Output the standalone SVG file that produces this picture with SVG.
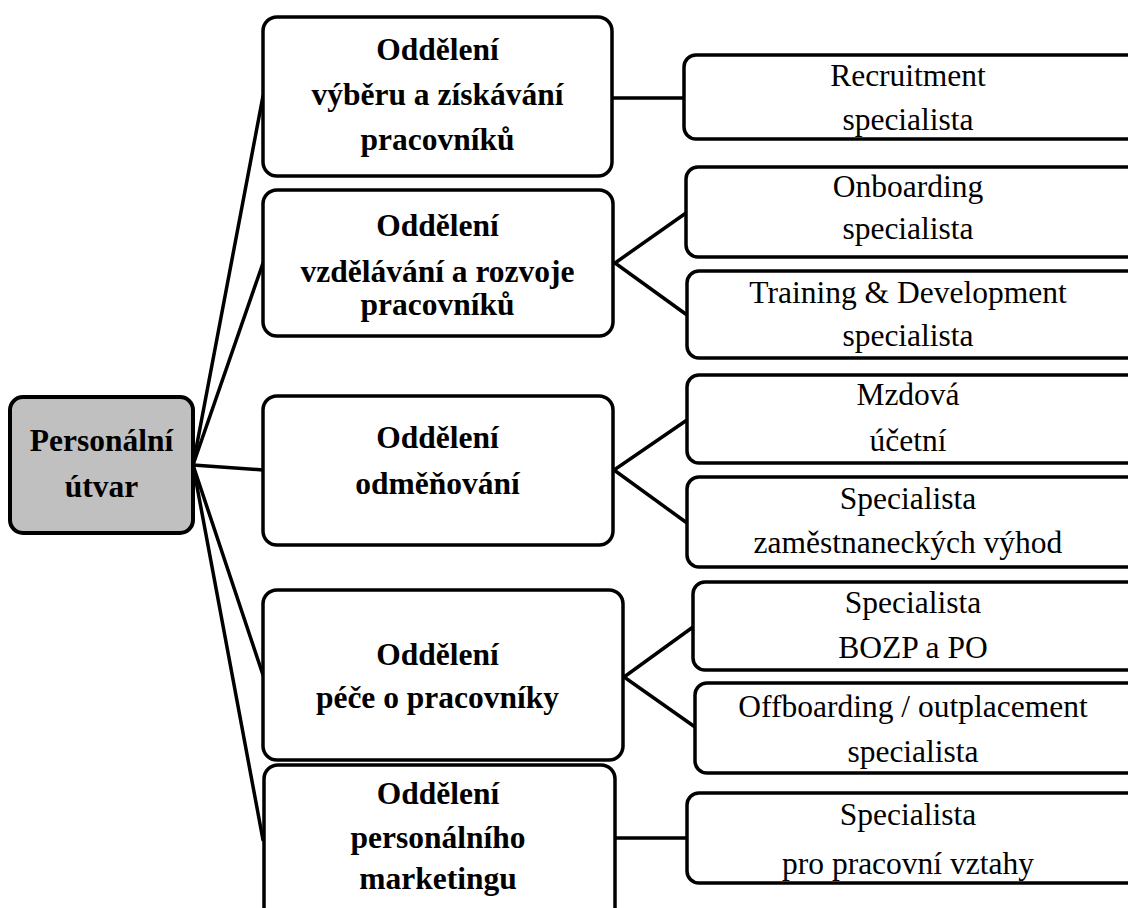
<svg xmlns="http://www.w3.org/2000/svg" width="1128" height="908" viewBox="0 0 1128 908">
  <style>
    .box { fill: #ffffff; stroke: #000000; stroke-width: 3.5; }
    .root { fill: #c0c0c0; stroke: #000000; stroke-width: 4; }
    .link { stroke: #000000; stroke-width: 3.5; fill: none; stroke-linecap: round; stroke-linejoin: miter; }
    .bold { font-family: "Liberation Serif", "Times New Roman", serif; font-weight: bold; font-size: 31.5px; fill: #000; text-anchor: middle; }
    .reg { font-family: "Liberation Serif", "Times New Roman", serif; font-size: 31.5px; fill: #000; text-anchor: middle; }
  </style>
  <rect width="1128" height="908" fill="#ffffff"/>

  <g id="connectors">
    <!-- root to departments -->
    <line class="link" x1="193" y1="465" x2="263" y2="96"/>
    <line class="link" x1="193" y1="465" x2="263" y2="263"/>
    <line class="link" x1="193" y1="465" x2="263" y2="470"/>
    <line class="link" x1="193" y1="465" x2="263" y2="675"/>
    <line class="link" x1="193" y1="465" x2="263" y2="840"/>
    <!-- departments to roles -->
    <line class="link" x1="612" y1="98" x2="684" y2="98"/>
    <polyline class="link" points="686,213 615,263 687,315"/>
    <polyline class="link" points="687,420 614,470 687,523"/>
    <polyline class="link" points="693,627 624,677 695,727"/>
    <line class="link" x1="615" y1="838" x2="687" y2="838"/>
  </g>

  <g id="root">
    <rect class="root" x="10" y="397" width="183" height="136" rx="13"/>
    <text class="bold" x="101.5" y="451">Personální</text>
    <text class="bold" x="101.5" y="497">útvar</text>
  </g>

  <g id="dept-vyber">
    <rect class="box" x="263" y="17" width="349" height="159" rx="14"/>
    <text class="bold" x="437.5" y="60">Oddělení</text>
    <text class="bold" x="437.5" y="105">výběru a získávání</text>
    <text class="bold" x="437.5" y="150">pracovníků</text>
  </g>

  <g id="dept-vzdelavani">
    <rect class="box" x="263" y="190" width="350" height="146" rx="14"/>
    <text class="bold" x="437.5" y="236">Oddělení</text>
    <text class="bold" x="437.5" y="282">vzdělávání a rozvoje</text>
    <text class="bold" x="437.5" y="315">pracovníků</text>
  </g>

  <g id="dept-odmenovani">
    <rect class="box" x="263" y="396" width="350" height="149" rx="14"/>
    <text class="bold" x="437.5" y="448">Oddělení</text>
    <text class="bold" x="437.5" y="494">odměňování</text>
  </g>

  <g id="dept-pece">
    <rect class="box" x="263" y="590" width="360" height="170" rx="14"/>
    <text class="bold" x="437.5" y="665">Oddělení</text>
    <text class="bold" x="437.5" y="708">péče o pracovníky</text>
  </g>

  <g id="dept-marketing">
    <rect class="box" x="264" y="765" width="351" height="160" rx="14"/>
    <text class="bold" x="438" y="804">Oddělení</text>
    <text class="bold" x="438" y="848">personálního</text>
    <text class="bold" x="438" y="889">marketingu</text>
  </g>

  <g id="role-recruitment">
    <rect class="box" x="684" y="55" width="460" height="84" rx="12"/>
    <text class="reg" x="908" y="86">Recruitment</text>
    <text class="reg" x="908" y="130">specialista</text>
  </g>

  <g id="role-onboarding">
    <rect class="box" x="686" y="167" width="460" height="90" rx="12"/>
    <text class="reg" x="908" y="197">Onboarding</text>
    <text class="reg" x="908" y="239">specialista</text>
  </g>

  <g id="role-training">
    <rect class="box" x="687" y="271" width="460" height="87" rx="12"/>
    <text class="reg" x="908" y="303">Training &amp; Development</text>
    <text class="reg" x="908" y="346">specialista</text>
  </g>

  <g id="role-mzdova">
    <rect class="box" x="687" y="375" width="460" height="88" rx="12"/>
    <text class="reg" x="908" y="405">Mzdová</text>
    <text class="reg" x="908" y="451">účetní</text>
  </g>

  <g id="role-vyhody">
    <rect class="box" x="687" y="477" width="460" height="90" rx="12"/>
    <text class="reg" x="908" y="509">Specialista</text>
    <text class="reg" x="908" y="553">zaměstnaneckých výhod</text>
  </g>

  <g id="role-bozp">
    <rect class="box" x="693" y="582" width="460" height="88" rx="12"/>
    <text class="reg" x="913" y="613">Specialista</text>
    <text class="reg" x="913" y="658">BOZP a PO</text>
  </g>

  <g id="role-offboarding">
    <rect class="box" x="695" y="683" width="460" height="90" rx="12"/>
    <text class="reg" x="913" y="717">Offboarding / outplacement</text>
    <text class="reg" x="913" y="762">specialista</text>
  </g>

  <g id="role-vztahy">
    <rect class="box" x="687" y="793" width="460" height="90" rx="12"/>
    <text class="reg" x="908" y="825">Specialista</text>
    <text class="reg" x="908" y="874">pro pracovní vztahy</text>
  </g>
</svg>
